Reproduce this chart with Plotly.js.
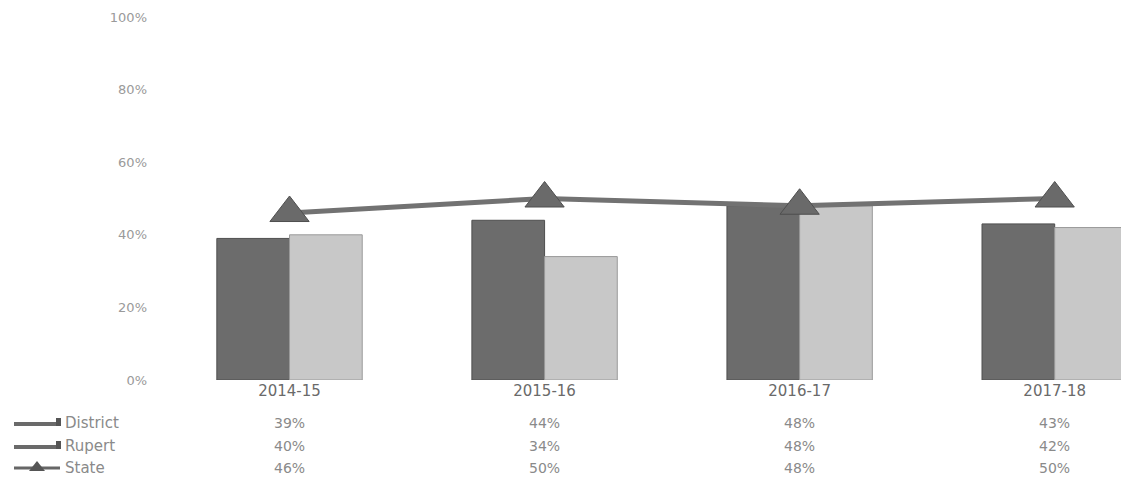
<!DOCTYPE html>
<html>
<head>
<meta charset="utf-8">
<script src="https://cdn.plot.ly/plotly-3.0.1.min.js"></script>
<style>html,body{margin:0;padding:0;background:#fff;}#chart{width:1121px;height:482px;}</style>
</head>
<body>
<div id="chart"></div>
<script>
var categories = ['2014-15', '2015-16', '2016-17', '2017-18'];
var districtValues = [0.39, 0.44, 0.48, 0.43];
var rupertValues = [0.40, 0.34, 0.48, 0.42];
var stateValues = [0.46, 0.50, 0.48, 0.50];
var seriesNames = ['District', 'Rupert', 'State'];
var yTicks = [0, 0.2, 0.4, 0.6, 0.8, 1.0];
var yTickLabels = ['0%', '20%', '40%', '60%', '80%', '100%'];

var W = 1121, H = 482, L = 162, R = 0, T = 17, B = 102;
var pw = W - L - R, ph = H - T - B;
function px(x) { return (x - L) / pw; }
function py(y) { return (H - B - y) / ph; }

var xIdx = categories.map(function(c, i) { return i; });
var traces = [
  {type: 'bar', name: seriesNames[0], x: xIdx, y: districtValues,
   marker: {color: '#6c6c6c', line: {color: '#4f4f4f', width: 1}}, hoverinfo: 'skip'},
  {type: 'bar', name: seriesNames[1], x: xIdx, y: rupertValues,
   marker: {color: '#c8c8c8', line: {color: '#9a9a9a', width: 1}}, hoverinfo: 'skip'},
  {type: 'scatter', mode: 'lines+markers', name: seriesNames[2], x: xIdx, y: stateValues,
   line: {color: '#727272', width: 5},
   marker: {symbol: 'triangle-up', size: 34, color: '#6a6a6a', line: {color: '#4f4f4f', width: 1}}, hoverinfo: 'skip'}
];

var fam = 'DejaVu Sans, sans-serif';
var annotations = [];
var rowY = [423, 446, 468];
var rows = [districtValues, rupertValues, stateValues];
rows.forEach(function(vals, r) {
  vals.forEach(function(v, i) {
    annotations.push({xref: 'x', yref: 'paper', x: i, y: py(rowY[r]), text: Math.round(v * 100) + '%',
      showarrow: false, xanchor: 'center', yanchor: 'middle', font: {family: fam, size: 14, color: '#8a8a8a'}});
  });
  annotations.push({xref: 'paper', yref: 'paper', x: px(63), y: py(rowY[r]), text: seriesNames[r],
    showarrow: false, xanchor: 'left', yanchor: 'middle', font: {family: fam, size: 15, color: '#8a8a8a'}});
});

var shapes = [];
[0, 1].forEach(function(r) {
  var y = rowY[r];
  shapes.push({type: 'rect', xref: 'paper', yref: 'paper', x0: px(14), x1: px(60), y0: py(y + 3), y1: py(y - 1),
    fillcolor: '#6a6a6a', line: {width: 0}});
  shapes.push({type: 'rect', xref: 'paper', yref: 'paper', x0: px(56), x1: px(61), y0: py(y + 3), y1: py(y - 5),
    fillcolor: '#555', line: {width: 0}});
});
(function() {
  var y = rowY[2];
  shapes.push({type: 'line', xref: 'paper', yref: 'paper', x0: px(14), x1: px(60), y0: py(y), y1: py(y),
    line: {color: '#666', width: 3}});
  shapes.push({type: 'path', xref: 'paper', yref: 'paper',
    path: 'M ' + px(29) + ' ' + py(y + 3) + ' L ' + px(45) + ' ' + py(y + 3) + ' L ' + px(37) + ' ' + py(y - 7) + ' Z',
    fillcolor: '#555', line: {width: 0}});
})();

var layout = {
  width: W, height: H,
  margin: {l: L, r: R, t: T, b: B, pad: 0},
  paper_bgcolor: '#fff', plot_bgcolor: '#fff',
  showlegend: false,
  barmode: 'group', bargap: 0.43, bargroupgap: 0,
  font: {family: fam, color: '#888', size: 13},
  xaxis: {range: [-0.5, 3.26], tickmode: 'array', tickvals: [0, 1, 2, 3], ticktext: categories,
    showgrid: false, zeroline: false, showline: false, ticks: '',
    tickfont: {family: fam, size: 15, color: '#6a6a6a'}, fixedrange: true},
  yaxis: {range: [0, 1], tickmode: 'array', tickvals: yTicks, ticktext: yTickLabels,
    showgrid: false, zeroline: false, showline: false, ticks: '', ticklabelstandoff: 14,
    tickfont: {family: fam, size: 13, color: '#9a9a9a'}, fixedrange: true},
  annotations: annotations,
  shapes: shapes
};

Plotly.newPlot('chart', traces, layout, {staticPlot: true, displayModeBar: false});
</script>
</body>
</html>
